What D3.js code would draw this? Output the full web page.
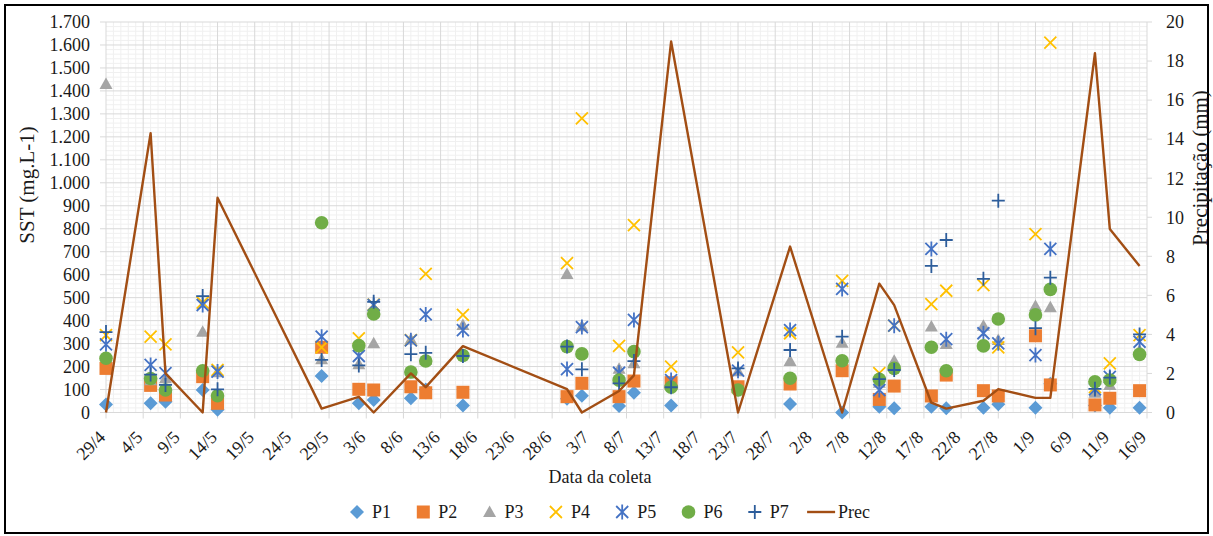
<!DOCTYPE html>
<html>
<head>
<meta charset="utf-8">
<script src="https://cdn.jsdelivr.net/npm/d3@7"></script>
<style>
  body { margin: 0; background: #fff; }
  svg text { font-family: "Liberation Serif", "DejaVu Serif", serif; fill: #1a1a1a; }
</style>
</head>
<body>
<svg id="chart" width="1213" height="536" font-family="Liberation Serif, DejaVu Serif, serif"></svg>
<script>
// Sampling dates (day/month)
const collectionDates = ["29/4","5/5","7/5","12/5","14/5","28/5","2/6","4/6","9/6","11/6",
  "16/6","30/6","2/7","7/7","9/7","14/7","23/7","30/7","6/8","11/8",
  "13/8","18/8","20/8","25/8","27/8","1/9","3/9","9/9","11/9","15/9"];

// Suspended solids (SST, mg/L) at each sampling point
const p1 = [35,40,47,98,12,159,40,54,62,100,30,60,73,28,86,30,100,37,0,25,18,25,18,21,36,21,125,30,21,21];
const p2 = [192,118,76,156,40,284,101,98,112,86,88,69,127,69,137,130,112,124,182,57,115,72,163,95,72,334,120,33,62,95];
const p3 = [1430,140,149,352,175,232,210,301,318,230,381,603,375,190,214,120,180,224,304,130,225,374,298,378,316,464,458,86,120,270];
const p4 = [337,330,297,478,185,284,323,470,315,603,425,650,1280,290,816,200,262,345,573,171,378,472,530,555,284,777,1610,110,214,337];
const p5 = [297,207,171,468,178,330,246,468,314,427,359,189,372,173,403,141,182,359,538,98,378,712,319,345,301,250,712,101,155,308];
const p6 = [236,148,98,182,73,826,291,429,176,224,248,287,255,141,265,110,98,149,225,145,192,284,182,290,407,425,536,134,141,253];
const p7 = [350,165,120,507,101,229,205,482,254,260,246,287,188,127,224,110,192,272,330,145,185,638,751,582,922,367,587,103,152,340];

// Rainfall (mm)
const precipitation = [0,14.3,2.0,0,11.0,0.2,0.8,0,2.0,1.3,3.4,1.2,0,1.1,1.9,19.0,0,8.5,0,6.6,5.5,0.5,0.2,0.6,1.2,0.75,0.75,18.4,9.4,7.5];

// Axis ticks
const dateTickLabels = ["29/4","4/5","9/5","14/5","19/5","24/5","29/5","3/6","8/6","13/6",
  "18/6","23/6","28/6","3/7","8/7","13/7","18/7","23/7","28/7","2/8",
  "7/8","12/8","17/8","22/8","27/8","1/9","6/9","11/9","16/9"];
const sstTicks = d3.range(0, 1701, 100);
const precTicks = d3.range(0, 21, 2);

const seriesNames = ["P1","P2","P3","P4","P5","P6","P7"];
const seriesValues = [p1,p2,p3,p4,p5,p6,p7];

const YEAR = 2019;
const parseDM = s => { const [d, m] = s.split("/").map(Number); return new Date(Date.UTC(YEAR, m - 1, d)); };

const svg = d3.select("#chart");
const W = 1213, H = 536;
const plot = { left: 106, right: 1147, top: 22, bottom: 412.5 };

const tickDates = dateTickLabels.map(parseDM);
const x = d3.scaleUtc().domain([tickDates[0], tickDates[tickDates.length - 1]]).range([plot.left, plot.right]);
const y = d3.scaleLinear().domain([0, 1700]).range([plot.bottom, plot.top]);
const yPrec = d3.scaleLinear().domain([0, 20]).range([plot.bottom, plot.top]);

const ptFormat = d3.formatLocale({ decimal: ",", thousands: ".", grouping: [3], currency: ["R$", ""] }).format(",");

// outer frame
svg.append("rect").attr("x", 5).attr("y", 5).attr("width", W - 10).attr("height", H - 8)
  .attr("fill", "#fff").attr("stroke", "#000").attr("stroke-width", 2);

// grid: minor lines
const grid = svg.append("g");
const minorY = d3.range(0, 1701, 20).filter(v => v % 100 !== 0);
grid.selectAll(".hmin").data(minorY).join("line")
  .attr("x1", plot.left).attr("x2", plot.right).attr("y1", d => y(d)).attr("y2", d => y(d))
  .attr("stroke", "#f0f0f0").attr("stroke-width", 1);
const minorDays = d3.utcDay.range(tickDates[0], d3.utcDay.offset(tickDates[tickDates.length - 1], 1))
  .filter(d => !tickDates.some(t => +t === +d));
grid.selectAll(".vmin").data(minorDays).join("line")
  .attr("x1", d => x(d)).attr("x2", d => x(d)).attr("y1", plot.top).attr("y2", plot.bottom)
  .attr("stroke", "#f0f0f0").attr("stroke-width", 1);

// grid: major lines
grid.selectAll(".hmaj").data(sstTicks).join("line")
  .attr("x1", plot.left - 6).attr("x2", plot.right).attr("y1", d => y(d)).attr("y2", d => y(d))
  .attr("stroke", "#d9d9d9").attr("stroke-width", 1);
grid.selectAll(".vmaj").data(tickDates).join("line")
  .attr("x1", d => x(d)).attr("x2", d => x(d)).attr("y1", plot.top).attr("y2", plot.bottom + 6)
  .attr("stroke", "#d9d9d9").attr("stroke-width", 1);
// right-axis tick marks
grid.selectAll(".rt").data(precTicks).join("line")
  .attr("x1", plot.right).attr("x2", plot.right + 5).attr("y1", d => yPrec(d)).attr("y2", d => yPrec(d))
  .attr("stroke", "#d9d9d9").attr("stroke-width", 1);

// axis labels
const axes = svg.append("g").attr("font-size", 18);
axes.selectAll(".yl").data(sstTicks).join("text")
  .attr("x", 90).attr("y", d => y(d)).attr("dy", "0.35em").attr("text-anchor", "end")
  .text(d => ptFormat(d));
axes.selectAll(".yr").data(precTicks).join("text")
  .attr("x", 1166).attr("y", d => yPrec(d)).attr("dy", "0.35em").attr("text-anchor", "start")
  .text(d => d);
axes.selectAll(".xl").data(dateTickLabels).join("text")
  .attr("transform", (d, i) => `translate(${x(tickDates[i]) - 4},434) rotate(-45)`)
  .attr("dy", "0.35em").attr("text-anchor", "end")
  .text(d => d);

svg.append("text").attr("x", 600).attr("y", 483).attr("text-anchor", "middle")
  .attr("font-size", 18).text("Data da coleta");
svg.append("text").attr("transform", "translate(34,185) rotate(-90)").attr("text-anchor", "middle")
  .attr("font-size", 21).text("SST (mg.L-1)");
svg.append("text").attr("transform", "translate(1207,168) rotate(-90)").attr("text-anchor", "middle")
  .attr("font-size", 21).text("Precipitação (mm)");

// marker shapes
const markers = [
  { color: "#5B9BD5", draw: (g) => g.append("path").attr("d", "M0,-7L7,0L0,7L-7,0Z") },
  { color: "#ED7D31", draw: (g) => g.append("rect").attr("x", -6.5).attr("y", -6.5).attr("width", 13).attr("height", 13) },
  { color: "#A5A5A5", draw: (g) => g.append("path").attr("d", "M0,-6.5L6.5,5L-6.5,5Z") },
  { color: "#FFC000", stroke: true, draw: (g) => g.append("path").attr("d", "M-6,-6L6,6M-6,6L6,-6") },
  { color: "#4472C4", stroke: true, draw: (g) => g.append("path").attr("d", "M-6,-6L6,6M-6,6L6,-6M0,-7.5L0,7.5") },
  { color: "#70AD47", draw: (g) => g.append("circle").attr("r", 6.8) },
  { color: "#2D5D9B", stroke: true, draw: (g) => g.append("path").attr("d", "M-6.5,0L6.5,0M0,-7L0,7") }
];

function drawMarker(g, k) {
  const m = markers[k];
  const el = m.draw(g);
  if (m.stroke) el.attr("fill", "none").attr("stroke", m.color).attr("stroke-width", 1.8);
  else el.attr("fill", m.color);
}

const dates = collectionDates.map(parseDM);
const pts = svg.append("g");
seriesValues.forEach((vals, k) => {
  const g = pts.append("g");
  vals.forEach((v, i) => {
    const mg = g.append("g").attr("transform", `translate(${x(dates[i])},${y(v)})`);
    drawMarker(mg, k);
  });
});

// rainfall line on the secondary axis
const line = d3.line().x((d, i) => x(dates[i])).y(d => yPrec(d));
svg.append("path").datum(precipitation).attr("d", line)
  .attr("fill", "none").attr("stroke", "#A24E14").attr("stroke-width", 2.4).attr("stroke-linejoin", "round");

// legend
const legend = svg.append("g").attr("font-size", 18);
const legendX0 = 357, legendPitch = 66.3, legendY = 512;
seriesNames.forEach((name, k) => {
  const cx = legendX0 + k * legendPitch;
  const mg = legend.append("g").attr("transform", `translate(${cx},${legendY})`);
  drawMarker(mg, k);
  legend.append("text").attr("x", cx + 15).attr("y", legendY).attr("dy", "0.35em").text(name);
});
{
  const cx = legendX0 + 7 * legendPitch;
  legend.append("line").attr("x1", cx - 14).attr("x2", cx + 14).attr("y1", legendY).attr("y2", legendY)
    .attr("stroke", "#A24E14").attr("stroke-width", 2.4);
  legend.append("text").attr("x", cx + 17).attr("y", legendY).attr("dy", "0.35em").text("Prec");
}
</script>
</body>
</html>
